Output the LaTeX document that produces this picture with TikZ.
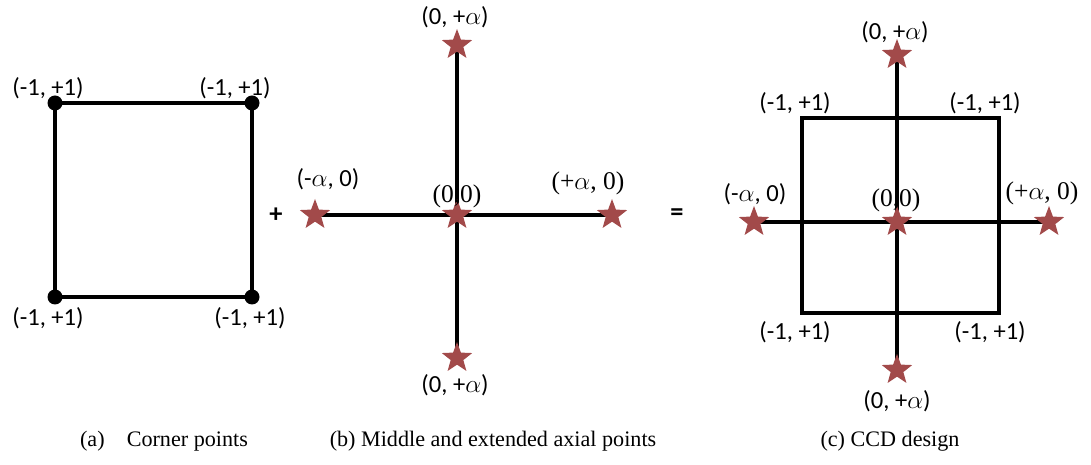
\documentclass[tikz,border=0pt]{standalone}
\usepackage{fontspec}
\setmainfont{Carlito}
\newfontfamily\capfont{Liberation Serif}
\newfontfamily\serifl{Liberation Serif}
\usetikzlibrary{shapes.geometric}
\definecolor{starred}{HTML}{A24A4A}
\tikzset{
  pt/.style={star, star points=5, star point ratio=2.4, fill=starred, draw=none,
    minimum size=0.64cm, inner sep=0pt},
  dot/.style={circle, fill=black, minimum size=0.3cm, inner sep=0pt},
  lbl/.style={inner sep=0pt, font=\fontsize{14}{15}\selectfont},
  slbl/.style={inner sep=0pt, font=\serifl\fontsize{14.5}{15}\selectfont},
  captxt/.style={inner sep=0pt, font=\capfont\fontsize{12.6}{14}\selectfont},
  axis/.style={line width=2.5pt}
}
\begin{document}
\begin{tikzpicture}[x=0.02cm, y=-0.02cm]
  \useasboundingbox (0,0) rectangle (1091,465);
  % (a) corner points
  \node[dot] (a1) at (55,103) {};
  \node[dot] (a2) at (252,103) {};
  \node[dot] (a3) at (252,297) {};
  \node[dot] (a4) at (55,297) {};
  \draw[axis] (a1.center) -- (a2.center) -- (a3.center) -- (a4.center) -- cycle;
  \node[lbl] (la1) at (48,88) {(-1, +1)};
  \node[lbl] (la2) at (235,88) {(-1, +1)};
  \node[lbl] (la3) at (250,318) {(-1, +1)};
  \node[lbl] (la4) at (48,318) {(-1, +1)};
  \node[lbl, font=\bfseries\fontsize{15}{15}\selectfont] (plus) at (276,215) {+};
  % (b) middle and axial points
  \coordinate (b0) at (457,215);
  \coordinate (bt) at (457,45);
  \coordinate (bb) at (457,358);
  \coordinate (bl) at (315,215);
  \coordinate (br) at (612,215);
  \draw[axis] (bt) -- (bb);
  \draw[axis] (bl) -- (br);
  \foreach \p in {b0,bt,bb,bl,br} \node[pt] at (\p) {};
  \node[lbl] (lbt) at (455,17) {(0, +$\alpha$)};
  \node[lbl] (lbb) at (455,385) {(0, +$\alpha$)};
  \node[lbl] (lbl) at (328,179) {(-$\alpha$, 0)};
  \node[slbl] (lb0) at (457,196) {(0,0)};
  \node[slbl] (lbr) at (588,183) {(+$\alpha$, 0)};
  \node[lbl, font=\bfseries\fontsize{15}{15}\selectfont] (eq) at (677,215) {=};
  % (c) CCD design
  \coordinate (c1) at (802,118);
  \coordinate (c2) at (999,118);
  \coordinate (c3) at (999,313);
  \coordinate (c4) at (802,313);
  \draw[axis] (c1) -- (c2) -- (c3) -- (c4) -- cycle;
  \coordinate (c0) at (897,222);
  \coordinate (ct) at (897,55);
  \coordinate (cb) at (897,370);
  \coordinate (cl) at (754,222);
  \coordinate (cr) at (1049,222);
  \draw[axis] (ct) -- (cb);
  \draw[axis] (cl) -- (cr);
  \foreach \p in {c0,ct,cb,cl,cr} \node[pt] at (\p) {};
  \node[lbl] (lct) at (895,32) {(0, +$\alpha$)};
  \node[lbl] (lcb) at (897,401) {(0, +$\alpha$)};
  \node[lbl] (lc1) at (795,103) {(-1, +1)};
  \node[lbl] (lc2) at (985,103) {(-1, +1)};
  \node[lbl] (lc3) at (990,332) {(-1, +1)};
  \node[lbl] (lc4) at (795,332) {(-1, +1)};
  \node[lbl] (lcl) at (755,194) {(-$\alpha$, 0)};
  \node[slbl] (lc0) at (896,200) {(0,0)};
  \node[slbl] (lcr) at (1042,193) {(+$\alpha$, 0)};
  % captions
  \node[captxt] (capa) at (164,441) {(a)\hspace{1em}Corner points};
  \node[captxt] (capb) at (493,441) {(b) Middle and extended axial points};
  \node[captxt] (capc) at (890,441) {(c) CCD design};
\end{tikzpicture}
\end{document}
